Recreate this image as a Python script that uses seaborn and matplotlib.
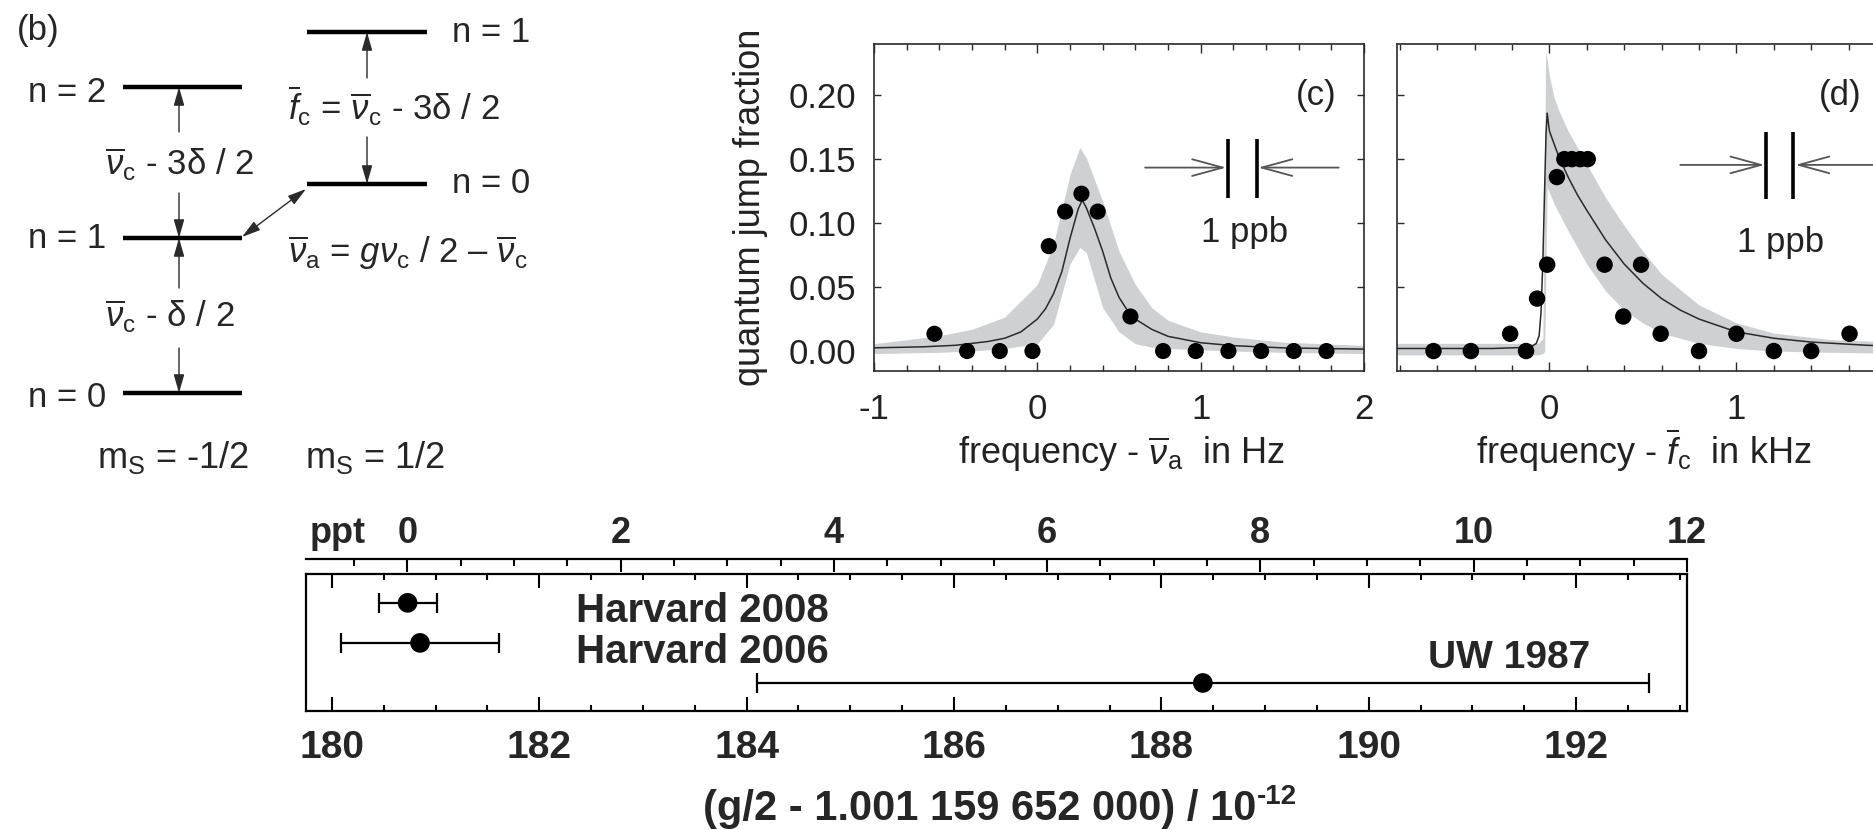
import matplotlib
matplotlib.use("Agg")
import matplotlib.pyplot as plt
from matplotlib.ticker import MultipleLocator, FormatStrFormatter
import seaborn as sns

# ==== DATA ====
# (c) anomaly resonance
c_freq = [-0.63, -0.43, -0.23, -0.03, 0.07, 0.17, 0.27, 0.37, 0.57, 0.77, 0.97, 1.17, 1.37, 1.57, 1.77]
c_frac = [0.0135, 0, 0, 0, 0.082, 0.109, 0.123, 0.109, 0.027, 0, 0, 0, 0, 0, 0]
c_fit_x = [-1.0, -0.7, -0.5, -0.3, -0.2, -0.1, 0.0, 0.05, 0.1, 0.15, 0.2, 0.25, 0.275, 0.3,
           0.35, 0.4, 0.45, 0.5, 0.55, 0.6, 0.7, 0.8, 1.0, 1.2, 1.5, 2.0]
c_fit_y = [0.0025, 0.0033, 0.0045, 0.0075, 0.010, 0.015, 0.025, 0.033, 0.045, 0.062, 0.088, 0.111, 0.118, 0.112,
           0.096, 0.078, 0.057, 0.042, 0.032, 0.025, 0.017, 0.0115, 0.0065, 0.0042, 0.0025, 0.0015]
c_band_x = [-1.0, -0.6, -0.4, -0.2, 0.0, 0.1, 0.2, 0.26, 0.3, 0.4, 0.5, 0.6, 0.7, 0.8, 1.0, 1.2, 1.5, 2.0]
c_band_hi = [0.0057, 0.012, 0.017, 0.0265, 0.052, 0.084, 0.138, 0.159, 0.151, 0.117, 0.078, 0.052, 0.034, 0.024,
             0.015, 0.011, 0.007, 0.0044]
c_band_lo = [-0.002, -0.001, 0.0, 0.002, 0.0057, 0.021, 0.068, 0.081, 0.077, 0.034, 0.015, 0.0057, 0.003, 0.002,
             0.001, 0.0, -0.001, -0.002]

# (d) cyclotron resonance
d_freq = [-0.62, -0.42, -0.21, -0.125, -0.066, -0.012, 0.04, 0.08, 0.12, 0.165, 0.205, 0.295, 0.395, 0.49,
          0.595, 0.80, 1.0, 1.2, 1.4, 1.605]
d_frac = [0, 0, 0.0135, 0, 0.041, 0.0675, 0.136, 0.150, 0.150, 0.150, 0.150, 0.0675, 0.027, 0.0675,
          0.0135, 0, 0.0135, 0, 0, 0.0135]
d_fit_x = [-0.82, -0.3, -0.1, -0.07, -0.055, -0.045, -0.035, -0.025, -0.018, -0.012, 0.0, 0.05, 0.1, 0.15,
           0.2, 0.3, 0.4, 0.5, 0.6, 0.7, 0.8, 1.0, 1.2, 1.4, 1.7, 2.0]
d_fit_y = [0.002, 0.002, 0.003, 0.006, 0.012, 0.03, 0.07, 0.13, 0.17, 0.186, 0.172, 0.152, 0.136, 0.122,
           0.110, 0.087, 0.068, 0.053, 0.041, 0.032, 0.025, 0.015, 0.010, 0.007, 0.0045, 0.003]
d_band_x = [-0.82, -0.06, -0.035, -0.025, -0.02, -0.012, 0.0, 0.025, 0.05, 0.1, 0.2, 0.3, 0.4, 0.5, 0.6,
            0.8, 1.0, 1.2, 1.5, 2.0]
d_band_hi = [0.006, 0.006, 0.01, 0.15, 0.234, 0.228, 0.215, 0.198, 0.188, 0.172, 0.146, 0.120, 0.098, 0.078,
             0.060, 0.036, 0.022, 0.014, 0.009, 0.006]
d_band_lo = [-0.003, -0.003, -0.002, 0.0, 0.05, 0.128, 0.124, 0.115, 0.108, 0.094, 0.068, 0.047, 0.032, 0.022,
             0.014, 0.006, 0.002, 0.0, -0.001, -0.002]

# bottom: g/2 measurements
exp_names = ["Harvard 2008", "Harvard 2006", "UW 1987"]
exp_vals = [180.73, 180.85, 188.4]
exp_errs = [0.28, 0.76, 4.3]
exp_rows = [3, 2, 1]

# (b) level scheme, in reference pixels
left_levels = [393, 238, 87]     # n = 0, 1, 2  (m_S = -1/2)
right_levels = [184, 32]         # n = 0, 1     (m_S = 1/2)

# ==== STYLE ====
sns.set_theme(style="ticks")
plt.rcParams["font.family"] = ["Liberation Sans", "DejaVu Sans"]
plt.rcParams["mathtext.fontset"] = "custom"
plt.rcParams["mathtext.rm"] = "Liberation Sans"
plt.rcParams["mathtext.it"] = "Liberation Sans:italic"
plt.rcParams["mathtext.bf"] = "Liberation Sans:bold"
plt.rcParams["axes.unicode_minus"] = False

W, H = 1873, 830
band_col = "#cfd0d2"
dark = "#2a2a2a"


def fx(px):
    return px / W


def fy(py):
    return 1 - py / H


fig = plt.figure(figsize=(W / 100, H / 100), dpi=100, facecolor="white")

# ==== (b) LEVEL DIAGRAM ====
ax_s = fig.add_axes([0, fy(480), fx(560), 480 / H])
ax_s.set_xlim(0, 560)
ax_s.set_ylim(480, 0)
ax_s.axis("off")
ax_s.hlines(left_levels, 123, 242, color="black", lw=3.2)
ax_s.hlines(right_levels, 307, 427, color="black", lw=3.2)

fs_b = 25
ax_s.text(17, 40, "(b)", fontsize=fs_b, va="baseline")
for y, s in zip([407, 248, 102], ["n = 0", "n = 1", "n = 2"]):
    ax_s.text(106, y, s, fontsize=fs_b, ha="right", va="baseline")
for y, s in zip([193, 42], ["n = 0", "n = 1"]):
    ax_s.text(452, y, s, fontsize=fs_b, ha="left", va="baseline")

arrow_kw = dict(arrowstyle="-|>,head_length=0.7,head_width=0.2", lw=1.0, color=dark,
                shrinkA=0, shrinkB=0, mutation_scale=16)
for tail, tip in [((179, 132), (179, 87)), ((179, 193), (179, 238)),
                  ((179, 288), (179, 238)), ((179, 348), (179, 393)),
                  ((367, 78), (367, 32)), ((367, 137), (367, 184))]:
    ax_s.annotate("", xy=tip, xytext=tail, arrowprops=arrow_kw)
ax_s.annotate("", xy=(306, 189), xytext=(242, 237),
              arrowprops=dict(arrow_kw, arrowstyle="<|-|>,head_length=0.7,head_width=0.2"))

ax_s.text(105, 175, r"$\overline{\nu}_\mathrm{c}$ - 3δ / 2", fontsize=fs_b, va="baseline")
ax_s.text(105, 327, r"$\overline{\nu}_\mathrm{c}$ - δ / 2", fontsize=fs_b, va="baseline")
ax_s.text(288, 120, r"$\overline{f}_\mathrm{c}$ = $\overline{\nu}_\mathrm{c}$ - 3δ / 2", fontsize=fs_b, va="baseline")
ax_s.text(288, 263, r"$\overline{\nu}_\mathrm{a}$ = $g\nu_\mathrm{c}$ / 2 – $\overline{\nu}_\mathrm{c}$",
          fontsize=fs_b, va="baseline")
ax_s.text(97, 468, r"m$_\mathrm{S}$ = -1/2", fontsize=26, va="baseline")
ax_s.text(305, 468, r"m$_\mathrm{S}$ = 1/2", fontsize=26, va="baseline")


# ==== (c) and (d) RESONANCES ====
def style_res(ax):
    ax.set_ylim(-0.0156, 0.240)
    ax.set_yticks([0, 0.05, 0.10, 0.15, 0.20])
    ax.yaxis.set_major_formatter(FormatStrFormatter("%.2f"))
    ax.xaxis.set_minor_locator(MultipleLocator(0.2))
    ax.tick_params(which="both", direction="in", top=True, right=True, width=1.0, color=dark,
                   labelsize=25, labelcolor="#222222")
    ax.tick_params(axis="x", which="major", length=6.5, pad=16)
    ax.tick_params(axis="x", which="minor", length=4.3)
    ax.tick_params(axis="y", which="major", length=5, pad=13)
    for sp in ax.spines.values():
        sp.set_linewidth(1.2)
        sp.set_color(dark)
    ax.set_xlabel("")
    ax.set_ylabel("")


ax_c = fig.add_axes([fx(874), fy(371), (1364 - 874) / W, (371 - 44) / H])
ax_c.fill_between(c_band_x, c_band_lo, c_band_hi, color=band_col, lw=0, zorder=1)
sns.lineplot(x=c_fit_x, y=c_fit_y, ax=ax_c, color=dark, lw=1.1, zorder=2)
sns.scatterplot(x=c_freq, y=c_frac, ax=ax_c, color="black", s=135, edgecolor="none", zorder=3)
ax_c.set_xlim(-1, 2)
ax_c.set_xticks([-1, 0, 1, 2])
style_res(ax_c)
ax_c.text(1.83, 0.2, "(c)", fontsize=25, ha="right", va="center", color="#222222")

ax_d = fig.add_axes([fx(1397), fy(371), (2.815 * 187) / W, (371 - 44) / H])
ax_d.fill_between(d_band_x, d_band_lo, d_band_hi, color=band_col, lw=0, zorder=1)
sns.lineplot(x=d_fit_x, y=d_fit_y, ax=ax_d, color=dark, lw=1.1, zorder=2)
sns.scatterplot(x=d_freq, y=d_frac, ax=ax_d, color="black", s=140, edgecolor="none", zorder=3)
ax_d.set_xlim(-0.815, 2.0)
ax_d.set_xticks([0, 1])
style_res(ax_d)
ax_d.tick_params(labelleft=False)
ax_d.text(1.556, 0.2, "(d)", fontsize=25, ha="center", va="center", color="#222222")

# 1 ppb markers
open_arrow = dict(arrowstyle="->,head_length=1.1,head_width=0.3", lw=1.3, color="#555555",
                  shrinkA=0, shrinkB=0, mutation_scale=20)
for ax, b1, b2, ya, y0, y1, xl, xr, xt, yt in [
        (ax_c, 1.166, 1.343, 0.1434, 0.120, 0.166, 0.66, 1.845, 1.27, 0.085),
        (ax_d, 1.16, 1.305, 0.1455, 0.119, 0.171, 0.70, 1.76, 1.235, 0.0773)]:
    ax.vlines([b1, b2], y0, y1, color="black", lw=2.6, zorder=4)
    ax.annotate("", xy=(b1 - 0.01, ya), xytext=(xl, ya), arrowprops=open_arrow)
    ax.annotate("", xy=(b2 + 0.01, ya), xytext=(xr, ya), arrowprops=open_arrow)
    ax.text(xt, yt, "1 ppb", fontsize=25, ha="center", va="baseline", color="#222222")

fig.text(fx(751), fy(207), "quantum jump fraction", rotation=90, fontsize=26,
         ha="center", va="center", color="#222222")
fig.text(fx(1121), fy(464), r"frequency - $\overline{\nu}_\mathrm{a}$  in Hz", fontsize=26,
         ha="center", va="baseline", color="#222222")
fig.text(fx(1644), fy(464), r"frequency - $\overline{f}_\mathrm{c}$  in kHz", fontsize=26,
         ha="center", va="baseline", color="#222222")

# ==== BOTTOM: g/2 COMPARISON ====
ax_g = fig.add_axes([fx(306), fy(711), (1687 - 306) / W, (711 - 574) / H])
ax_g.errorbar(exp_vals, exp_rows, xerr=exp_errs, fmt="none", ecolor="black",
              elinewidth=1.6, capsize=7.2, capthick=1.6, zorder=2)
sns.scatterplot(x=exp_vals, y=exp_rows, ax=ax_g, color="black", s=200, edgecolor="none", zorder=3)
ax_g.set_xlim(179.75, 193.07)
ax_g.set_ylim(0.3, 3.72)
ax_g.set_yticks([])
ax_g.set_xticks(range(180, 193, 2))
ax_g.xaxis.set_minor_locator(MultipleLocator(0.5))
ax_g.tick_params(axis="x", which="both", direction="in", top=True, bottom=True, width=1.5,
                 color="black", labelsize=28, pad=14)
ax_g.tick_params(axis="x", which="major", length=10)
ax_g.tick_params(axis="x", which="minor", length=4.5)
for lab in ax_g.get_xticklabels():
    lab.set_fontweight("bold")
for sp in ax_g.spines.values():
    sp.set_linewidth(1.6)
    sp.set_color("black")
ax_g.set_xlabel("")
ax_g.set_ylabel("")

ax_g.text(182.35, 2.525, exp_names[0], fontsize=29, fontweight="bold", va="baseline")
ax_g.text(182.35, 1.5, exp_names[1], fontsize=29, fontweight="bold", va="baseline")
ax_g.text(190.57, 1.375, exp_names[2], fontsize=28, fontweight="bold", va="baseline")

ax_p = fig.add_axes([fx(306), fy(572), (1687 - 306) / W, 13 / H])
ax_p.patch.set_visible(False)
for side in ["left", "right", "bottom"]:
    ax_p.spines[side].set_visible(False)
ax_p.spines["top"].set_linewidth(1.6)
ax_p.spines["top"].set_color("black")
ax_p.set_xlim(-0.95, 12.0)
ax_p.set_yticks([])
ax_p.xaxis.tick_top()
ax_p.set_xticks(range(0, 13, 2))
ax_p.xaxis.set_minor_locator(MultipleLocator(0.5))
ax_p.tick_params(axis="x", which="both", direction="in", top=True, bottom=False, labeltop=True,
                 labelbottom=False, width=1.5, color="black", labelsize=26, pad=6)
ax_p.tick_params(axis="x", which="major", length=9)
ax_p.tick_params(axis="x", which="minor", length=5)
for lab in ax_p.get_xticklabels():
    lab.set_fontweight("bold")
fig.text(fx(310), fy(543), "ppt", fontsize=26, fontweight="bold", va="baseline")

xl = fig.text(fx(980), fy(820), "(g/2 - 1.001 159 652 000) / 10", fontsize=30,
              fontweight="bold", ha="center", va="baseline")
ax_g.annotate("-12", xy=(1.0, 0.62), xycoords=xl, fontsize=20, fontweight="bold",
              ha="left", va="baseline", annotation_clip=False)

fig.savefig("out.png", dpi=100)
